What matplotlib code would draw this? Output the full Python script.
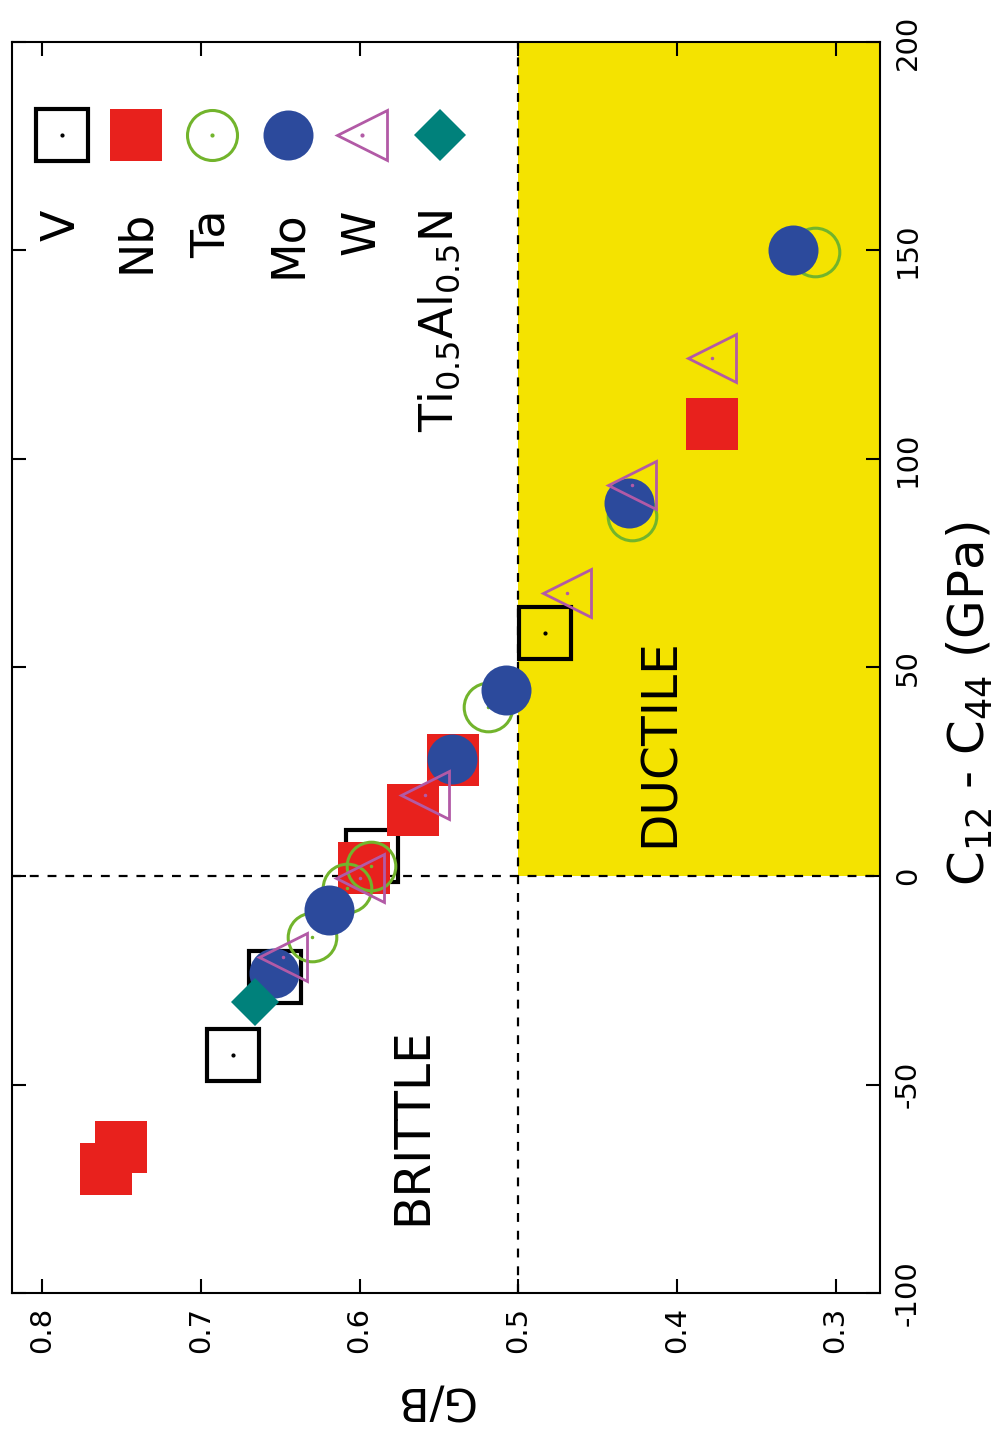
import matplotlib
matplotlib.use("Agg")
import matplotlib.pyplot as plt

plt.rcParams['font.family'] = ['DejaVu Sans']
plt.rcParams['mathtext.default'] = 'regular'

# G/B ratio vs Cauchy pressure (C12 - C44), drawn rotated as in the source figure
v_gb = [0.680, 0.653, 0.592, 0.483]
v_c = [-42.9, -24.2, 4.8, 58.3]

nb_gb = [0.760, 0.750, 0.597, 0.566, 0.541, 0.378]
nb_c = [-70.3, -65.0, 1.9, 15.8, 27.8, 108.4]

ta_gb = [0.630, 0.608, 0.593, 0.519, 0.428, 0.313]
ta_c = [-14.6, -2.9, 2.4, 40.5, 86.3, 149.6]

mo_gb = [0.654, 0.619, 0.542, 0.508, 0.430, 0.327]
mo_c = [-23.3, -8.2, 28.0, 44.6, 89.4, 150.1]

w_gb = [0.648, 0.600, 0.559, 0.469, 0.428, 0.378]
w_c = [-19.4, -0.5, 19.4, 67.9, 93.8, 124.2]

tialn_gb = [0.666]
tialn_c = [-30.2]

labels = ['V', 'Nb', 'Ta', 'Mo', 'W', r'Ti$_{0.5}$Al$_{0.5}$N']

black = 'black'
red = '#e8211d'
green = '#72b42c'
blue = '#2c4a9c'
purple = '#b25aa6'
teal = '#00817b'
yellow = '#f4e300'

fig = plt.figure(figsize=(10.08, 14.36), dpi=100)
ax = fig.add_axes([12 / 1008, 1 - 1293 / 1436, 868 / 1008, 1251 / 1436])

ax.set_xlim(0.819, 0.272)
ax.set_ylim(-100, 200)

# ductile region
ax.fill_between([0.5, 0.272], 0, 200, color=yellow, lw=0, zorder=0)
ax.axvline(0.5, color='black', ls=(0, (4, 4)), lw=1.6, zorder=1)
ax.axhline(0, color='black', ls=(0, (4, 4)), lw=1.6, zorder=1)

ms = 37
ax.plot(v_gb, v_c, ls='none', marker='s', ms=ms, mfc='none', mec=black, mew=3, zorder=3)
ax.plot(v_gb, v_c, ls='none', marker='.', ms=4, color=black, zorder=3)
ax.plot(nb_gb, nb_c, ls='none', marker='s', ms=ms, mfc=red, mec=red, mew=0, zorder=3)
ax.plot(ta_gb, ta_c, ls='none', marker='o', ms=ms - 2, mfc='none', mec=green, mew=2.2, zorder=3)
ax.plot(ta_gb, ta_c, ls='none', marker='.', ms=3, color=green, zorder=3)
ax.plot(mo_gb, mo_c, ls='none', marker='o', ms=ms - 1, mfc=blue, mec=blue, mew=0, zorder=3)
ax.plot(w_gb, w_c, ls='none', marker='<', ms=ms - 3, mfc='none', mec=purple, mew=2, zorder=3)
ax.plot(w_gb, w_c, ls='none', marker='.', ms=3, color=purple, zorder=3)
ax.plot(tialn_gb, tialn_c, ls='none', marker='D', ms=24, mfc=teal, mec=teal, mew=0, zorder=3)

# legend drawn by hand, rotated like the rest of the figure
leg_x = [(p - 12) / 868 for p in [62, 136, 212, 288, 362, 440]]
leg_y = (1293 - 135) / 1251
lab_y = (1293 - 210) / 1251
styles = [
    dict(marker='s', ms=38, mfc='none', mec=black, mew=3),
    dict(marker='s', ms=38, mfc=red, mec=red, mew=0),
    dict(marker='o', ms=36, mfc='none', mec=green, mew=2.2),
    dict(marker='o', ms=36, mfc=blue, mec=blue, mew=0),
    dict(marker='<', ms=36, mfc='none', mec=purple, mew=2),
    dict(marker='D', ms=26, mfc=teal, mec=teal, mew=0),
]
dots = [black, None, green, None, purple, None]
for x, st, d, lab in zip(leg_x, styles, dots, labels):
    ax.plot([x], [leg_y], ls='none', transform=ax.transAxes, zorder=4, **st)
    if d:
        ax.plot([x], [leg_y], ls='none', marker='.', ms=4, color=d,
                transform=ax.transAxes, zorder=4)
    ax.text(x, lab_y, lab, transform=ax.transAxes, rotation=90,
            ha='center', va='top', fontsize=33)

ax.text(0.567, -60, 'BRITTLE', rotation=90, ha='center', va='center', fontsize=35)
ax.text(0.411, 32, 'DUCTILE', rotation=90, ha='center', va='center', fontsize=35)

ax.set_xticks([0.8, 0.7, 0.6, 0.5, 0.4, 0.3])
ax.set_xticklabels(['0.8', '0.7', '0.6', '0.5', '0.4', '0.3'], rotation=90)
ax.set_yticks([-100, -50, 0, 50, 100, 150, 200])
ax.set_yticklabels(['-100', '-50', '0', '50', '100', '150', '200'], rotation=90, va='center')
ax.tick_params(direction='in', length=10, width=1.5, labelsize=21,
               top=True, right=True, labelleft=False, labelright=True, pad=10)
for s in ax.spines.values():
    s.set_linewidth(1.5)

fig.text(0.43, 0.026, 'G/B', rotation=180, ha='center', va='center', fontsize=32)
fig.text(0.962, 0.51, r'C$_{12}$ - C$_{44}$ (GPa)', rotation=90,
         ha='center', va='center', fontsize=36)

fig.savefig('out.png', dpi=100)
